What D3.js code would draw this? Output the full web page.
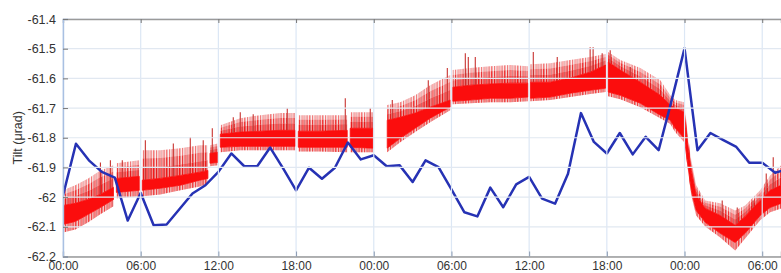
<!DOCTYPE html>
<html>
<head>
<meta charset="utf-8">
<script src="https://cdn.jsdelivr.net/npm/d3@7/dist/d3.min.js"></script>
<style>
  body { margin: 0; background: #fff; }
  svg { display: block; font-family: "Liberation Sans", Arial, sans-serif; }
</style>
</head>
<body>
<script>
// DATA PLOTTING AND VISUALISATION

// Needed Variables
const width = 781;
const height = 273;
const margin = {top: 19, right: 0, bottom: 16.5, left: 63};

// Time axis (hours since first 00:00) and labels
const tickHours = [0, 6, 12, 18, 24, 30, 36, 42, 48, 54];
const tickLabels = ["00:00", "06:00", "12:00", "18:00", "00:00", "06:00", "12:00", "18:00", "00:00", "06:00"];
const yTicks = [-62.2, -62.1, -62, -61.9, -61.8, -61.7, -61.6, -61.5, -61.4];

// Blue series : hourly values
const blueHours = [0, 1, 2, 3, 4, 5, 6, 7, 8, 9, 10, 11, 12, 13, 14, 15, 16, 17, 18, 19,
  20, 21, 22, 23, 24, 25, 26, 27, 28, 29, 30, 31, 32, 33, 34, 35, 36, 37, 38, 39,
  40, 41, 42, 43, 44, 45, 46, 47, 48, 49, 50, 51, 52, 53, 54, 55, 56];
const blueTilt = [-61.994, -61.820, -61.876, -61.915, -61.934, -62.079, -61.986, -62.095, -62.092, -62.040,
  -61.988, -61.960, -61.915, -61.853, -61.896, -61.896, -61.833, -61.903, -61.977, -61.901,
  -61.938, -61.901, -61.816, -61.873, -61.859, -61.896, -61.893, -61.949, -61.876, -61.899,
  -61.974, -62.051, -62.065, -61.968, -62.034, -61.957, -61.932, -62.005, -62.022, -61.921,
  -61.717, -61.814, -61.853, -61.784, -61.856, -61.797, -61.842, -61.675, -61.499, -61.842,
  -61.784, -61.808, -61.831, -61.884, -61.884, -61.918, -61.905];

// Red series : envelope of the dense record (null = gap in record)
const redHours = [0, 0.95, 1.95, 2.88, 3.9, 4.0,
  4.12, 5.89, 6.0,
  6.12, 7.51, 9.06, 10.56, 11.19, 11.27,
  11.35, 11.95, 12.05,
  12.15, 13.69, 15.24, 16.78, 17.93, 18.05,
  18.17, 19.87, 21.95, 22.07,
  22.18, 23.93, 24.5,
  25.04, 26.04, 27.2, 28.36, 29.9, 30.0,
  30.1, 31.45, 32.99, 34.53, 35.9, 36.0,
  36.1, 37.63, 39.17, 40.71, 41.9, 42.0,
  42.1, 43.04, 44.59, 46.13, 46.9, 47.28, 47.98, 48.21, 48.52, 48.9, 49.6, 50.76, 51.91, 52.68, 53.84, 54.61, 55.46];
const redSpikeTop = [-61.977, -61.960, -61.937, -61.910, -61.893, null,
  -61.886, -61.876, null,
  -61.842, -61.842, -61.835, -61.825, -61.825, null,
  -61.825, -61.819, null,
  -61.758, -61.734, -61.724, -61.717, -61.717, null,
  -61.724, -61.724, -61.724, null,
  -61.714, -61.714, null,
  -61.690, -61.680, -61.657, -61.623, -61.589, null,
  -61.572, -61.565, -61.559, -61.555, -61.559, null,
  -61.552, -61.549, -61.538, -61.528, -61.518, null,
  -61.511, -61.538, -61.565, -61.606, -61.657, -61.673, -61.680, -61.775, -61.876, -61.960, -62.011, -62.021, -62.045, -62.028, -61.977, -61.927, -61.893];
const redCoreTop = [-62.028, -62.021, -62.008, -61.991, -61.967, null,
  -61.937, -61.930, null,
  -61.943, -61.937, -61.927, -61.916, -61.910, null,
  -61.852, -61.849, null,
  -61.788, -61.781, -61.778, -61.775, -61.775, null,
  -61.778, -61.778, -61.775, null,
  -61.768, -61.768, null,
  -61.741, -61.731, -61.717, -61.697, -61.673, null,
  -61.630, -61.623, -61.619, -61.616, -61.616, null,
  -61.613, -61.613, -61.599, -61.579, -61.555, null,
  -61.545, -61.572, -61.613, -61.657, -61.690, -61.700, -61.714, -61.808, -61.910, -61.994, -62.038, -62.062, -62.095, -62.065, -62.011, -61.977, -61.960];
const redCoreBottom = [-62.092, -62.082, -62.058, -62.035, -62.008, null,
  -61.984, -61.977, null,
  -61.977, -61.970, -61.960, -61.943, -61.937, null,
  -61.886, -61.883, null,
  -61.832, -61.829, -61.829, -61.829, -61.829, null,
  -61.832, -61.832, -61.832, null,
  -61.832, -61.835, null,
  -61.835, -61.802, -61.768, -61.734, -61.697, null,
  -61.677, -61.673, -61.667, -61.667, -61.663, null,
  -61.667, -61.663, -61.650, -61.640, -61.633, null,
  -61.646, -61.657, -61.684, -61.724, -61.741, -61.768, -61.802, -61.876, -61.977, -62.045, -62.085, -62.122, -62.153, -62.122, -62.062, -62.035, -62.021];
const redSpikeBottom = [-62.119, -62.109, -62.085, -62.058, -62.031, null,
  -62.004, -61.997, null,
  -61.997, -61.991, -61.977, -61.964, -61.954, null,
  -61.896, -61.893, null,
  -61.849, -61.842, -61.842, -61.842, -61.842, null,
  -61.846, -61.846, -61.849, null,
  -61.849, -61.849, null,
  -61.849, -61.815, -61.781, -61.748, -61.707, null,
  -61.687, -61.684, -61.680, -61.680, -61.677, null,
  -61.677, -61.673, -61.663, -61.653, -61.646, null,
  -61.660, -61.670, -61.697, -61.734, -61.754, -61.781, -61.815, -61.893, -61.994, -62.062, -62.099, -62.136, -62.180, -62.139, -62.078, -62.051, -62.038];

// Red series : tallest single spikes
const spikeHours = [2.89, 3.66, 4.58, 6.36, 8.52, 9.83, 10.83, 11.53, 13.15, 13.69, 14.69, 17.32, 21.8, 23.73,
  25.43, 28.21, 29.68, 31.07, 31.3, 31.84, 36.32, 38.17, 40.71, 40.94, 41.64, 42.26, 43.81,
  50.91, 52.07, 53.3, 54.31, 54.85];
const spikeTilt = [-61.883, -61.876, -61.876, -61.808, -61.819, -61.798, -61.808, -61.768, -61.731, -61.714, -61.721, -61.700, -61.667, -61.700,
  -61.673, -61.606, -61.565, -61.515, -61.528, -61.528, -61.511, -61.528, -61.495, -61.495, -61.515, -61.505, -61.562,
  -62.011, -62.035, -62.011, -61.920, -61.866];

// Create Necessary HTML Elements
d3.select('body')
  .append('svg')
  .classed('DataVisualisation', true)
  .attr('width', width)
  .attr('height', height);

var svg = d3.select('svg');

function render(){

  // Scales
  var xScale = d3.scaleLinear()
    .domain([0, 55.45])
    .range([margin.left, width - margin.right]);

  var yScale = d3.scaleLinear()
    .domain([-62.2, -61.4])
    .range([height - margin.bottom, margin.top]);

  // clip to plot area
  var defs = svg.append('defs');
  defs.append('clipPath').attr('id', 'plotclip')
    .append('rect')
    .attr('x', margin.left).attr('y', margin.top)
    .attr('width', width - margin.left - margin.right)
    .attr('height', height - margin.bottom - margin.top);

  // irregular stripe pattern for the spiky fringe of the record
  var pat = defs.append('pattern')
    .attr('id', 'spikes')
    .attr('patternUnits', 'userSpaceOnUse')
    .attr('width', 13).attr('height', 10);
  var stripeX = [0, 1.8, 3.4, 5.2, 6.6, 8.1, 9.9, 11.4];
  var stripeW = [1, 0.7, 1.1, 0.6, 1, 0.8, 1.2, 0.6];
  var stripeC = ['#e81c1c', '#c63a3a', '#f22222', '#b84040', '#ee1e1e', '#d23030', '#f51a1a', '#c04848'];
  stripeX.forEach((x, i) => {
    pat.append('rect').attr('x', x).attr('width', stripeW[i]).attr('height', 10).attr('fill', stripeC[i]);
  });

  var rows = redHours.map((h, i) => ({
    h: h,
    st: redSpikeTop[i], ct: redCoreTop[i], cb: redCoreBottom[i], sb: redSpikeBottom[i]
  }));

  var plot = svg.append('g').attr('clip-path', 'url(#plotclip)');

  // area between two fractions of the way from key a to key b
  var bandArea = (a, b, f0, f1) => d3.area()
    .defined(d => d[a] != null)
    .x(d => xScale(d.h))
    .y0(d => yScale(d[a] + (d[b] - d[a]) * f0))
    .y1(d => yScale(d[a] + (d[b] - d[a]) * f1));

  // spiky fringe above the core : denser near the core, fading out towards the tips
  var layers = [[0, 0.4, 1, 0.45], [0.4, 0.72, 0.85, 0.2], [0.72, 1, 0.55, 0.06]];
  layers.forEach(l => {
    plot.append('path').datum(rows)
      .attr('d', bandArea('ct', 'st', l[0], l[1]))
      .attr('fill', '#f01010').attr('fill-opacity', l[3]);
    plot.append('path').datum(rows)
      .attr('d', bandArea('ct', 'st', l[0], l[1]))
      .attr('fill', 'url(#spikes)').attr('opacity', l[2]);
  });
  // thinner fringe under the core
  plot.append('path').datum(rows)
    .attr('d', bandArea('cb', 'sb', 0, 1))
    .attr('fill', '#f01010').attr('fill-opacity', 0.25);
  plot.append('path').datum(rows)
    .attr('d', bandArea('cb', 'sb', 0, 1))
    .attr('fill', 'url(#spikes)').attr('opacity', 0.75);

  // dense core of the red record
  plot.append('path').datum(rows)
    .attr('d', bandArea('cb', 'ct', 0, 1))
    .attr('fill', '#fb0d0d')
    .attr('stroke', '#fb0d0d')
    .attr('stroke-width', 0.8);

  // single tall spikes, from the core top up
  var defined = rows.filter(d => d.ct != null);
  var coreTopAt = d3.scaleLinear()
    .domain(defined.map(d => d.h))
    .range(defined.map(d => d.ct));

  plot.append('g')
    .selectAll('line')
    .data(spikeHours)
    .join('line')
    .attr('x1', d => xScale(d))
    .attr('x2', d => xScale(d))
    .attr('y1', d => yScale(coreTopAt(d)))
    .attr('y2', (d, i) => yScale(spikeTilt[i]))
    .attr('stroke', '#c8322f')
    .attr('stroke-width', 1.1);

  // grid (drawn over the record, shows up pale on the red)
  var grid = svg.append('g').attr('class', 'grid');
  grid.selectAll('.vgrid')
    .data(tickHours)
    .join('line')
    .attr('x1', d => xScale(d)).attr('x2', d => xScale(d))
    .attr('y1', margin.top).attr('y2', height - margin.bottom)
    .attr('stroke', '#dce7f5')
    .attr('stroke-width', 1.2);
  grid.selectAll('.hgrid')
    .data(yTicks)
    .join('line')
    .attr('x1', margin.left).attr('x2', width)
    .attr('y1', d => yScale(d)).attr('y2', d => yScale(d))
    .attr('stroke', '#e1e8f1')
    .attr('stroke-width', 1.2);

  // blue series on top
  var line = d3.line()
    .x((d, i) => xScale(blueHours[i]))
    .y(d => yScale(d));

  plot.append('path')
    .datum(blueTilt)
    .attr('d', line)
    .attr('fill', 'none')
    .attr('stroke', '#2632b4')
    .attr('stroke-width', 2.5)
    .attr('stroke-linejoin', 'round');

  // Axes
  var xAxis = d3.axisBottom(xScale)
    .tickValues(tickHours)
    .tickFormat((d, i) => tickLabels[i])
    .tickSize(-5)
    .tickPadding(5);

  svg.append('g')
    .attr('transform', 'translate(0,' + (height - margin.bottom) + ')')
    .call(xAxis)
    .call(g => g.select('.domain').attr('stroke', '#9a9a9a').attr('stroke-width', 1.4))
    .call(g => g.selectAll('.tick line').attr('stroke', '#8a9ab0'))
    .call(g => g.selectAll('text').attr('fill', '#333').style('font-size', '12px'));

  svg.append('g')
    .attr('transform', 'translate(0,' + margin.top + ')')
    .call(d3.axisTop(xScale).tickValues(tickHours).tickFormat('').tickSize(-4))
    .call(g => g.select('.domain').attr('stroke', '#9a9a9a').attr('stroke-width', 1.4))
    .call(g => g.selectAll('.tick line').attr('stroke', '#777'));

  var yAxis = d3.axisLeft(yScale)
    .tickValues(yTicks)
    .tickFormat(d => String(+d.toFixed(1)))
    .tickSize(-5)
    .tickPadding(7);

  svg.append('g')
    .attr('transform', 'translate(' + margin.left + ',0)')
    .call(yAxis)
    .call(g => g.select('.domain').attr('stroke', '#a9c0e2').attr('stroke-width', 1.4))
    .call(g => g.selectAll('.tick line').attr('stroke', '#777'))
    .call(g => g.selectAll('text').attr('fill', '#333').style('font-size', '12.5px'));

  // Axis title
  svg.append('text')
    .attr('transform', 'translate(22,' + ((margin.top + height - margin.bottom) / 2) + ') rotate(-90)')
    .attr('text-anchor', 'middle')
    .attr('fill', '#333')
    .style('font-size', '12.5px')
    .text('Tilt (μrad)');
}

render();
</script>
</body>
</html>
